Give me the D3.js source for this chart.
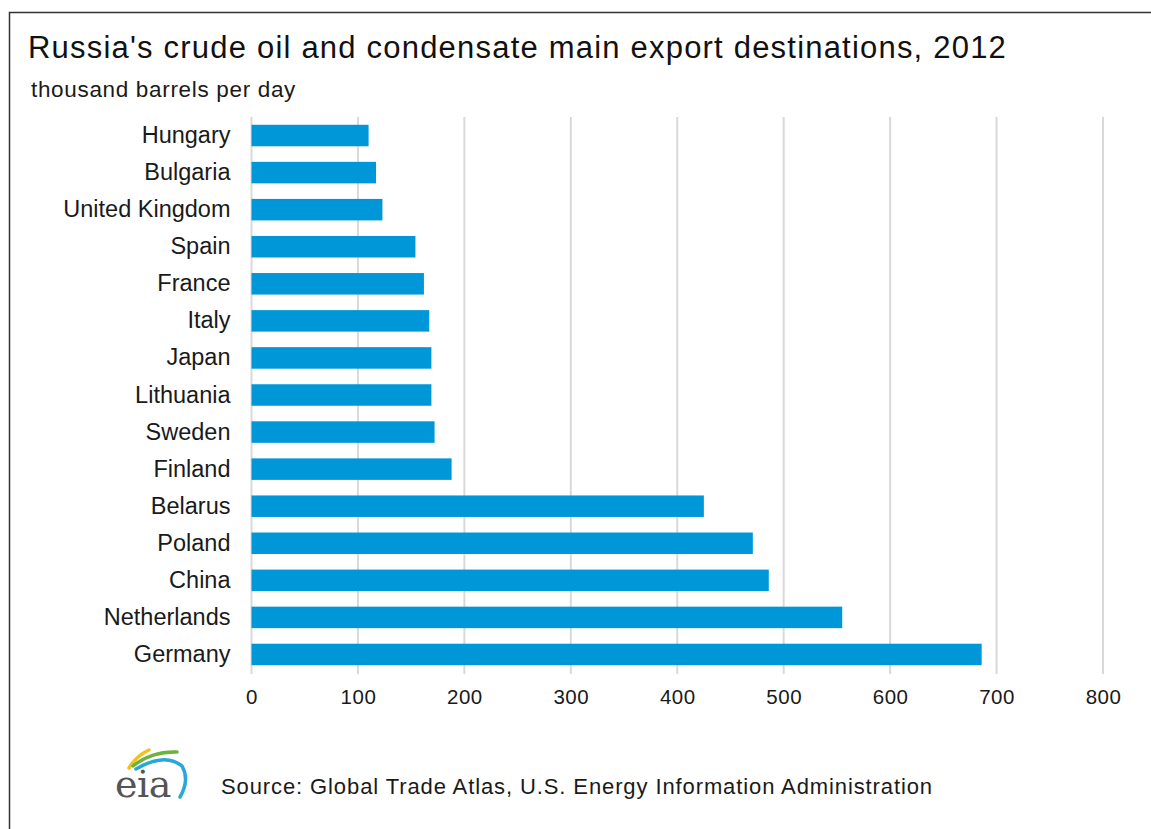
<!DOCTYPE html>
<html>
<head>
<meta charset="utf-8">
<script src="https://cdn.jsdelivr.net/npm/d3@7/dist/d3.min.js"></script>
<style>
  html, body { margin: 0; padding: 0; background: #fff; }
  svg { display: block; }
</style>
</head>
<body>
<svg id="chart" width="1151" height="829" font-family="'Liberation Sans', Arial, sans-serif"></svg>
<script>
const categories = ["Hungary", "Bulgaria", "United Kingdom", "Spain", "France", "Italy", "Japan",
  "Lithuania", "Sweden", "Finland", "Belarus", "Poland", "China", "Netherlands", "Germany"];
const values = [110, 117, 123, 154, 162, 167, 169, 169, 172, 188, 425, 471, 486, 555, 686];
const xTicks = [0, 100, 200, 300, 400, 500, 600, 700, 800];
const titleText = "Russia's crude oil and condensate main export destinations, 2012";
const unitText = "thousand barrels per day";
const sourceText = "Source: Global Trade Atlas, U.S. Energy Information Administration";

const svg = d3.select("#chart");

function fitWidth(sel, target) {
  const node = sel.node();
  const n = node.textContent.length;
  const w = node.getComputedTextLength();
  sel.attr("letter-spacing", ((target - w) / n).toFixed(3));
}

// frame
svg.append("path")
  .attr("d", "M9.5,829 L9.5,12.5 L1151,12.5")
  .attr("fill", "none").attr("stroke", "#333").attr("stroke-width", 1.5);

const x = d3.scaleLinear().domain([0, 800]).range([251.5, 1103]);
const y = d3.scaleBand().domain(categories).range([117, 673]).paddingInner(0.42).paddingOuter(0.21);

// gridlines
svg.append("g").selectAll("line").data(xTicks).join("line")
  .attr("x1", d => x(d)).attr("x2", d => x(d))
  .attr("y1", 117).attr("y2", 674)
  .attr("stroke", "#d9d9d9").attr("stroke-width", 2);

// bars
svg.append("g").selectAll("rect").data(values).join("rect")
  .attr("x", x(0))
  .attr("y", (d, i) => y(categories[i]))
  .attr("width", d => x(d) - x(0))
  .attr("height", y.bandwidth())
  .attr("fill", "#0097d8");

// category axis
const yAxis = d3.axisLeft(y).tickSize(0).tickPadding(21);
const gy = svg.append("g").attr("transform", `translate(${x(0)},0)`).call(yAxis);
gy.select(".domain").remove();
gy.selectAll("text").attr("font-size", 23.5).attr("fill", "#1a1a1a")
  .attr("font-family", "'Liberation Sans', Arial, sans-serif");

// value axis
const xAxis = d3.axisBottom(x).tickValues(xTicks).tickSize(0).tickPadding(0).tickFormat(d3.format("d"));
const gx = svg.append("g").attr("transform", `translate(0,689)`).call(xAxis);
gx.select(".domain").remove();
gx.selectAll("text").attr("font-size", 20.5).attr("fill", "#1a1a1a")
  .attr("font-family", "'Liberation Sans', Arial, sans-serif")
  .attr("dy", "0.71em")
  .attr("letter-spacing", 0.5);

// titles
const t1 = svg.append("text").attr("x", 28).attr("y", 58)
  .attr("font-size", 31).attr("fill", "#111").text(titleText);
fitWidth(t1, 979);
const t2 = svg.append("text").attr("x", 31).attr("y", 97)
  .attr("font-size", 22.5).attr("fill", "#1a1a1a").text(unitText);
fitWidth(t2, 265);

// source
const t3 = svg.append("text").attr("x", 221).attr("y", 794)
  .attr("font-size", 22).attr("fill", "#1a1a1a").text(sourceText);
fitWidth(t3, 712);

// eia logo
const logo = svg.append("g");
logo.append("path").attr("d", "M129,768 Q136,756 149,750")
  .attr("fill", "none").attr("stroke", "#f2c21b").attr("stroke-width", 3.5).attr("stroke-linecap", "round");
logo.append("path").attr("d", "M133,766 Q152,751 177,752")
  .attr("fill", "none").attr("stroke", "#6cb33f").attr("stroke-width", 3.5).attr("stroke-linecap", "round");
logo.append("path").attr("d", "M136,769 Q165,752 182,766 Q190,780 180,797")
  .attr("fill", "none").attr("stroke", "#2aa6de").attr("stroke-width", 3.5).attr("stroke-linecap", "round");
logo.append("text").attr("x", 115).attr("y", 797)
  .attr("font-family", "'DejaVu Serif', 'Liberation Serif', serif")
  .attr("font-size", 38).attr("fill", "#555").attr("letter-spacing", -0.5).text("eia");
</script>
</body>
</html>
